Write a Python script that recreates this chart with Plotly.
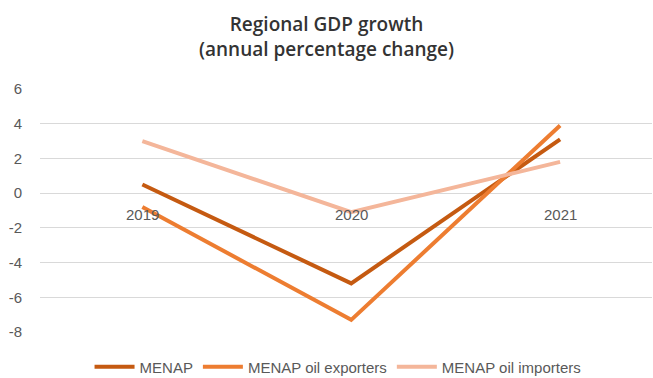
import plotly.graph_objects as go

years = ["2019", "2020", "2021"]
menap = [0.5, -5.2, 3.1]
menap_oil_exporters = [-0.8, -7.3, 3.9]
menap_oil_importers = [3.0, -1.1, 1.8]
y_ticks = [-8, -6, -4, -2, 0, 2, 4, 6]
y_tick_text = [str(v) for v in y_ticks]  # plain hyphen minus

series = [
    ("MENAP", menap, "#C55A11"),
    ("MENAP oil exporters", menap_oil_exporters, "#ED7D31"),
    ("MENAP oil importers", menap_oil_importers, "#F4B69A"),
]

x_pos = list(range(len(years)))
label_font = dict(family="Liberation Sans, Arial", size=15, color="#595959")

fig = go.Figure()
for name, vals, color in series:
    fig.add_trace(go.Scatter(
        x=x_pos, y=vals, name=name, mode="lines",
        line=dict(color=color, width=4),
    ))

# category labels sit just under the zero line
for i, yr in enumerate(years):
    fig.add_annotation(
        x=i, y=0, xref="x", yref="y", text=yr, showarrow=False,
        yanchor="top", yshift=-11, font=label_font,
    )

fig.update_layout(
    width=653, height=378,
    margin=dict(l=40, r=1, t=89, b=46, autoexpand=False),
    paper_bgcolor="white", plot_bgcolor="white",
    title=dict(
        text="Regional GDP growth<br>(annual percentage change)",
        x=0.5, xanchor="center", y=1 - 31 / 378, yanchor="middle",
        font=dict(family="Open Sans, sans-serif", size=19, color="#333333",
                  weight=600),
    ),
    xaxis=dict(range=[-0.49, 2.44], showgrid=False, zeroline=False,
               showticklabels=False, showline=False, fixedrange=True),
    yaxis=dict(range=[-8, 6], tickvals=y_ticks, ticktext=y_tick_text,
               showgrid=True, gridcolor="#D9D9D9", gridwidth=1, zeroline=False,
               ticks="", ticklabelstandoff=17, tickfont=label_font),
    legend=dict(orientation="h", x=0.487, xanchor="center",
                yref="container", y=1 - 367 / 378, yanchor="middle",
                font=label_font, itemwidth=40, traceorder="normal"),
    showlegend=True,
)

fig.write_html("out.html")
